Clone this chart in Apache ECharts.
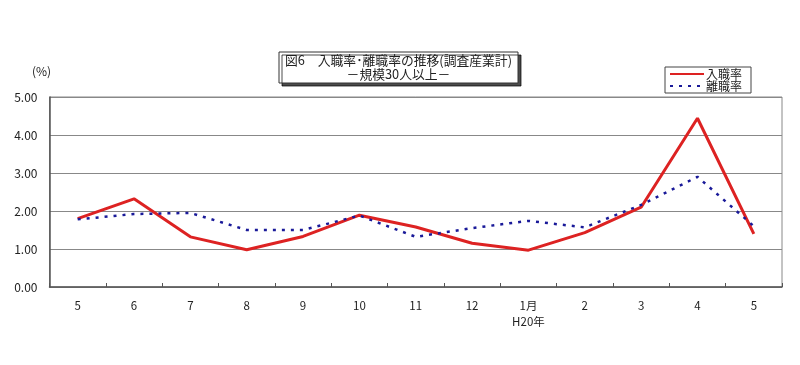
<!DOCTYPE html>
<html><head><meta charset="utf-8">
<script src="https://cdn.jsdelivr.net/npm/echarts@6/dist/echarts.min.js"></script>
<style>html,body{margin:0;padding:0;background:#fff}#c{width:800px;height:365px}</style>
</head><body><div id="c"></div>
<script>
const categories = ['5','6','7','8','9','10','11','12','1月\nH20年','2','3','4','5'];
const hireRate = [1.80, 2.32, 1.32, 0.98, 1.33, 1.89, 1.58, 1.15, 0.97, 1.43, 2.10, 4.44, 1.40];
const sepRate  = [1.78, 1.92, 1.95, 1.50, 1.50, 1.88, 1.32, 1.55, 1.74, 1.57, 2.16, 2.90, 1.60];
const seriesNames = ['入職率','離職率'];
const titleLines = ['図6　入職率･離職率の推移(調査産業計)','－規模30人以上－'];
const unitLabel = '(%)';

const FONT = '"Noto Sans CJK JP", sans-serif';
const chart = echarts.init(document.getElementById('c'), null, {renderer:'canvas'});
chart.setOption({
  animation:false,
  backgroundColor:'#fff',
  textStyle:{fontFamily:FONT},
  graphic:[
    {type:'rect', shape:{x:279, y:52, width:239, height:31}, z:10,
     style:{fill:'#fff', stroke:'#333', lineWidth:1, shadowColor:'rgba(0,0,0,0.7)', shadowOffsetX:3, shadowOffsetY:3, shadowBlur:0}},
    {type:'text', x:398.5, y:67.5, z:11,
     style:{text:titleLines.join('\n'), font:'12.8px ' + FONT, fill:'#222', align:'center', verticalAlign:'middle', lineHeight:14}}
  ],
  legend:{
    orient:'vertical', left:665, top:67,
    padding:[1,9,1,4],
    itemGap:0,
    itemWidth:34, itemHeight:11,
    borderColor:'#444', borderWidth:1, backgroundColor:'#fff',
    itemStyle:{opacity:0},
    textStyle:{fontFamily:FONT, fontSize:12, color:'#222', padding:[0,0,0,-3]},
    data:seriesNames
  },
  grid:{left:49.5, right:18, top:97, bottom:78, show:true, borderColor:'#888', borderWidth:1, backgroundColor:'transparent'},
  xAxis:{
    type:'category', data:categories, boundaryGap:true,
    axisLine:{lineStyle:{color:'#555', width:1.5}},
    axisTick:{show:true, inside:true, length:4, interval:0, lineStyle:{color:'#555'}},
    axisLabel:{interval:0, margin:11, fontSize:11.5, color:'#222', fontFamily:FONT, lineHeight:16}
  },
  yAxis:{
    type:'value', min:0, max:5, interval:1,
    name:unitLabel, nameLocation:'end', nameGap:20,
    nameTextStyle:{fontFamily:FONT, fontSize:12, color:'#222', align:'center', padding:[0,16,0,0]},
    axisLine:{show:true, lineStyle:{color:'#555', width:1.5}},
    axisTick:{show:false},
    axisLabel:{formatter:v=>v.toFixed(2), fontSize:12, color:'#222', margin:12, fontFamily:FONT},
    splitLine:{lineStyle:{color:'#888', width:1.2}}
  },
  series:[
    {name:seriesNames[0], type:'line', data:hireRate, symbol:'none', z:3,
     lineStyle:{color:'#dd2222', width:3}, itemStyle:{color:'#dd2222'}},
    {name:seriesNames[1], type:'line', data:sepRate, symbol:'none', z:4,
     lineStyle:{color:'#1a1a99', width:2.5, type:[3,6]}, itemStyle:{color:'#1a1a99'}}
  ]
});
</script></body></html>
